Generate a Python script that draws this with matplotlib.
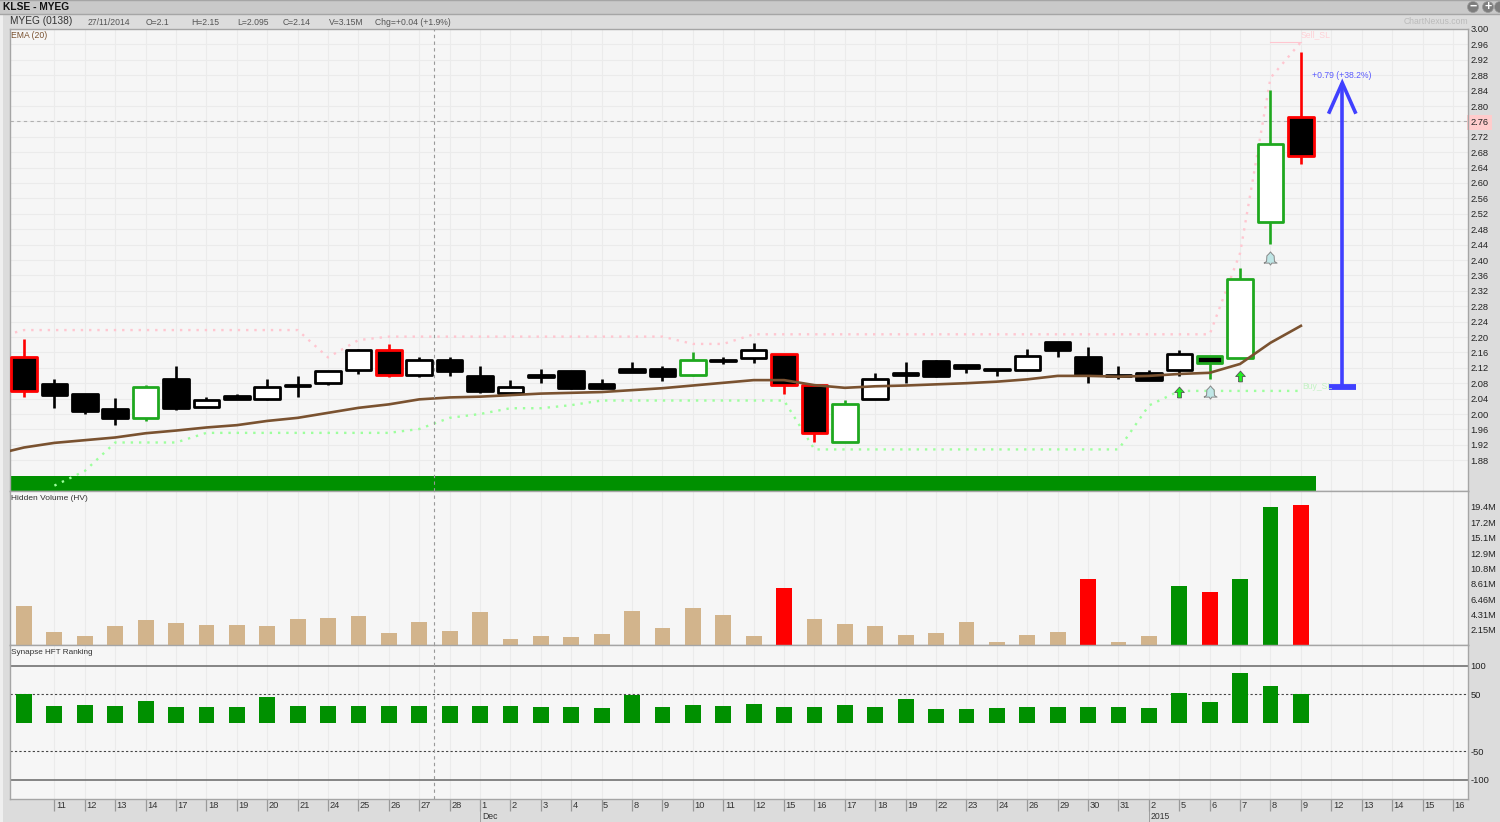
import numpy as np
import matplotlib
matplotlib.use('Agg')
import matplotlib.pyplot as plt
from matplotlib.patches import Rectangle, Circle
from matplotlib.path import Path
from matplotlib.transforms import ScaledTranslation, blended_transform_factory

plt.rcParams['font.family'] = ['Liberation Sans', 'DejaVu Sans']

# ---- data ----
date_labels = ['11', '12', '13', '14', '17', '18', '19', '20', '21', '24', '25', '26', '27', '28',
               '1', '2', '3', '4', '5', '8', '9', '10', '11', '12', '15', '16', '17', '18', '19',
               '22', '23', '24', '26', '29', '30', '31', '2', '5', '6', '7', '8', '9',
               '12', '13', '14', '15', '16']
date_idx = list(range(1, 48))

highs = [2.195, 2.09, 2.052, 2.042, 2.075, 2.125, 2.045, 2.051, 2.09, 2.10, 2.111, 2.17, 2.181, 2.149,
         2.149, 2.125, 2.088, 2.116, 2.112, 2.09, 2.136, 2.125, 2.16, 2.147, 2.185, 2.156, 2.075,
         2.036, 2.106, 2.136, 2.14, 2.127, 2.116, 2.17, 2.186, 2.175, 2.125, 2.114, 2.166, 2.15,
         2.378, 2.842, 2.941]
lows = [2.045, 2.016, 2.0, 1.971, 1.982, 2.01, 2.019, 2.04, 2.036, 2.045, 2.075, 2.104, 2.095, 2.095,
        2.10, 2.055, 2.052, 2.08, 2.066, 2.065, 2.108, 2.085, 2.10, 2.13, 2.133, 2.051, 1.926,
        1.926, 2.04, 2.08, 2.095, 2.106, 2.10, 2.114, 2.149, 2.08, 2.09, 2.088, 2.10, 2.09,
        2.145, 2.441, 2.649]
opens = [2.149, 2.077, 2.052, 2.013, 1.99, 2.092, 2.019, 2.046, 2.04, 2.076, 2.08, 2.114, 2.166, 2.10,
         2.14, 2.099, 2.055, 2.102, 2.112, 2.077, 2.117, 2.117, 2.10, 2.14, 2.145, 2.156, 2.075,
         1.926, 2.04, 2.106, 2.137, 2.127, 2.116, 2.114, 2.186, 2.147, 2.10, 2.107, 2.114, 2.15,
         2.145, 2.50, 2.771]
closes = [2.06, 2.05, 2.009, 1.99, 2.07, 2.015, 2.036, 2.04, 2.07, 2.074, 2.111, 2.166, 2.10, 2.14,
          2.112, 2.06, 2.071, 2.096, 2.068, 2.068, 2.108, 2.099, 2.14, 2.138, 2.166, 2.075, 1.95,
          2.026, 2.091, 2.10, 2.099, 2.12, 2.113, 2.151, 2.165, 2.10, 2.098, 2.088, 2.156, 2.133,
          2.351, 2.701, 2.671]
candle_edge = ['r', 'k', 'k', 'k', 'g', 'k', 'k', 'k', 'k', 'k', 'k', 'k', 'r', 'k',
               'k', 'k', 'k', 'k', 'k', 'k', 'k', 'k', 'g', 'k', 'k', 'r', 'r',
               'g', 'k', 'k', 'k', 'k', 'k', 'k', 'k', 'k', 'k', 'k', 'k', 'g',
               'g', 'g', 'r']

ema_idx = list(range(-1, 43))
ema = [1.894, 1.913, 1.925, 1.932, 1.939, 1.950, 1.957, 1.965, 1.971, 1.982, 1.990, 2.003, 2.016,
       2.025, 2.038, 2.043, 2.045, 2.049, 2.053, 2.055, 2.057, 2.062, 2.067, 2.074, 2.081, 2.088,
       2.088, 2.075, 2.068, 2.072, 2.074, 2.077, 2.080, 2.084, 2.090, 2.099, 2.099, 2.097, 2.099,
       2.104, 2.107, 2.130, 2.185, 2.229]

sell_sl = [2.197] + [2.218] * 10 + [2.147, 2.192] + [2.201] * 10 + [2.182, 2.182] + [2.207] * 16 \
    + [2.418, 2.873, 2.966]
buy_sl_idx = list(range(1, 43))
buy_sl = [1.814, 1.852, 1.926, 1.926, 1.926] + [1.951] * 7 + [1.961, 1.990, 2.0, 2.015, 2.015, 2.023] \
    + [2.035] * 7 + [1.908] * 11 + [2.022] + [2.060] * 5

arrow_idx = [38, 40]
arrow_price = [2.056, 2.100]
bell_idx = [39, 41]
bell_price = [2.056, 2.406]

volume = [5.55, 1.82, 1.26, 2.70, 3.54, 3.12, 2.89, 2.89, 2.70, 3.68, 3.78, 4.10, 1.68, 3.22, 2.0, 4.66,
          0.89, 1.26, 1.17, 1.59, 4.76, 2.47, 5.22, 4.24, 1.35, 7.97, 3.68, 3.03, 2.70, 1.49, 1.68, 3.22,
          0.47, 1.45, 1.91, 9.23, 0.47, 1.35, 8.30, 7.41, 9.32, 19.35, 19.58]
volume_kind = ['n'] * 25 + ['r'] + ['n'] * 9 + ['r', 'n', 'n', 'g', 'r', 'g', 'g', 'r']
vol_ticks = [2.15, 4.31, 6.46, 8.61, 10.8, 12.9, 15.1, 17.2, 19.4]
vol_labels = ['2.15M', '4.31M', '6.46M', '8.61M', '10.8M', '12.9M', '15.1M', '17.2M', '19.4M']

hft = [50, 30, 32, 30, 39, 28, 27, 28, 46, 29, 30, 30, 30, 30, 30, 29,
       29, 28, 27, 25, 49, 28, 31, 29, 33, 28, 27, 31, 27, 42, 24, 24, 26, 27, 28, 28,
       28, 25, 53, 36, 87, 64, 50]

last_price = 2.76
cross_idx = 13.49
move_idx = 43.36
move_low = 2.07
move_high = 2.86

# ---- figure and panels, in pixels of the 1500x822 picture ----
W, H = 1500, 822
LEFT, RIGHT = 9.5, 1467.5
fig = plt.figure(figsize=(W / 100, H / 100), dpi=100, facecolor='#dcdcdc')


def panel(top, bottom):
    ax = fig.add_axes([LEFT / W, 1 - bottom / H, (RIGHT - LEFT) / W, (bottom - top) / H])
    ax.set_facecolor('#f6f6f6')
    ax.set_xlim(-0.477, 47.48)
    for s in ax.spines.values():
        s.set_color('#a5a5a5')
        s.set_linewidth(1.0)
    ax.set_axisbelow(True)
    ax.grid(axis='x', color='#ebebeb', lw=0.8)
    ax.set_xticks(date_idx)
    ax.yaxis.tick_right()
    ax.tick_params(axis='y', length=0, pad=2.2, labelsize=6.7, labelcolor='#222222')
    ax.tick_params(axis='x', length=0, labelbottom=False)
    ax.axvline(cross_idx, color='#999999', lw=0.8, ls=(0, (3, 3)), zorder=6)
    return ax


def label(x, y, s, **kw):
    kw.setdefault('fontsize', 6.2)
    kw.setdefault('color', '#555555')
    kw.setdefault('va', 'center')
    fig.text(x / W, 1 - y / H, s, **kw)


# window chrome behind the panels
chrome = fig.add_axes([0, 0, 1, 1], zorder=-1)
chrome.set_xlim(0, W)
chrome.set_ylim(H, 0)
chrome.axis('off')
chrome.add_patch(Rectangle((0, 0), W, 14.5, fc='#c9c9c9', ec='none'))
chrome.plot([0, W], [0.5, 0.5], color='#a5a5a5', lw=1)
chrome.plot([0, W], [14.5, 14.5], color='#a5a5a5', lw=1)
chrome.add_patch(Rectangle((0, 15), 3, 807, fc='#efefef', ec='none'))
for cx, sym in zip([1473, 1488, 1500], ['\u2212', '+', '']):
    chrome.add_patch(Circle((cx, 7), 5.5, fc='#7d7d7d', ec='#999999', lw=0.5))
    chrome.text(cx, 6.7, sym, color='white', fontsize=9, fontweight='bold', ha='center', va='center')

ax1 = panel(29, 491)
ax2 = panel(491, 645.3)
ax3 = panel(645.3, 799.3)

# ---- price panel ----
ax1.set_ylim(1.80, 3.00)
price_ticks = np.arange(1.88, 3.001, 0.04)
ax1.set_yticks(price_ticks)
ax1.set_yticklabels(['%.2f' % p for p in price_ticks])
ax1.grid(axis='y', color='#ebebeb', lw=0.8)
for t, p in zip(ax1.get_yticklabels(), price_ticks):
    if abs(p - last_price) < 1e-6:
        t.set_bbox(dict(fc='#ffcccc', ec='none', pad=2.2))

ax1.axhline(last_price, color='#b0b0b0', lw=0.8, ls=(0, (3, 3)), zorder=2)
ax1.fill_between([-0.477, 42.5], 1.80, 1.838, color='#009000', lw=0, zorder=2)

ax1.plot(ema_idx, sell_sl, color='#ffc6d0', lw=1.7, ls=(0, (1, 2.5)), zorder=3)
ax1.plot(buy_sl_idx, buy_sl, color='#9dff9d', lw=1.7, ls=(0, (1, 2.5)), zorder=3)
ax1.plot([41, 42], [sell_sl[-1]] * 2, color='#ffc6d0', lw=0.8, zorder=3)

edge_colors = {'k': 'black', 'r': '#ff0000', 'g': '#1fa81f'}
for i in range(len(highs)):
    ec = edge_colors[candle_edge[i]]
    ax1.vlines(i, lows[i], highs[i], color=ec, lw=1.9, zorder=4)
    fill = 'white' if closes[i] > opens[i] else 'black'
    ax1.bar(i, abs(closes[i] - opens[i]), bottom=min(opens[i], closes[i]), width=0.84,
            facecolor=fill, edgecolor=ec, lw=2.0, joinstyle='round', zorder=4)

ax1.plot(ema_idx, ema, color='#7a5230', lw=1.9, zorder=5)

up_arrow = Path([(-0.35, -1), (0.35, -1), (0.35, 0), (0.9, 0), (0, 1), (-0.9, 0), (-0.35, 0), (-0.35, -1)])
bell = Path([(-1, -0.7), (-0.6, -0.45), (-0.55, 0.4), (-0.2, 0.75), (0, 1), (0.2, 0.75), (0.55, 0.4),
             (0.6, -0.45), (1, -0.7), (0.2, -0.7), (0, -1), (-0.2, -0.7), (-1, -0.7)])
ax1.scatter(arrow_idx, arrow_price, marker=up_arrow, s=60, facecolor='#22ee22', edgecolor='#555555',
            lw=0.6, zorder=7)
ax1.scatter(bell_idx, bell_price, marker=bell, s=90, facecolor='#bfe6e6', edgecolor='#888888',
            lw=0.7, zorder=7)

# blue measuring arrow
blue = '#4040ff'
ax1.plot([move_idx, move_idx], [move_low, move_high], color=blue, lw=2.6, zorder=7, solid_capstyle='butt')
ax1.plot([move_idx - 0.45, move_idx, move_idx + 0.45], [move_high - 0.08, move_high, move_high - 0.08],
         color=blue, lw=2.6, zorder=7, solid_joinstyle='miter', solid_capstyle='butt')
ax1.plot([move_idx - 0.44, move_idx + 0.44], [move_low, move_low], color=blue, lw=4.2, zorder=7,
         solid_capstyle='butt')
label(1342, 75, '+0.79 (+38.2%)', color='#5a5aff', ha='center')

# ---- hidden volume panel ----
ax2.set_ylim(0, 21.58)
ax2.set_yticks(vol_ticks)
ax2.set_yticklabels(vol_labels)
vol_colors = {'n': '#d2b48c', 'r': '#ff0000', 'g': '#009000'}
ax2.bar(range(len(volume)), volume, width=0.52, color=[vol_colors[k] for k in volume_kind], zorder=3)

# ---- HFT ranking panel ----
ax3.set_ylim(-134.7, 136.1)
ax3.set_yticks([100, 50, -50, -100])
ax3.set_yticklabels(['100', '50', '-50', '-100'])
for v in [100, -100]:
    ax3.axhline(v, color='#666666', lw=1.1, zorder=2)
for v in [50, -50]:
    ax3.axhline(v, color='#444444', lw=0.8, ls=(0, (2, 2)), zorder=2)
ax3.bar(range(len(hft)), hft, width=0.52, color='#009000', zorder=3)

# date axis under the last panel, labels sit right of the tick
ax3.tick_params(axis='x', length=8.6, width=0.9, color='#999999', labelbottom=True, labelsize=6.7,
                labelcolor='#333333', pad=-7.6)
ax3.set_xticklabels(date_labels, ha='left')
shift = ScaledTranslation(1.5 / 100, 0, fig.dpi_scale_trans)
for t in ax3.get_xticklabels():
    t.set_transform(t.get_transform() + shift)
trans = blended_transform_factory(ax3.transData, ax3.transAxes)
for i, s in zip([15, 37], ['Dec', '2015']):
    ax3.plot([i, i], [-0.07, -0.15], transform=trans, color='#999999', lw=0.65, clip_on=False)
    ax3.text(i + 0.06, -0.11, s, transform=trans, fontsize=6.2, color='#333333', va='center', ha='left',
             clip_on=False)

# ---- header and panel captions ----
label(3, 7, 'KLSE - MYEG', fontsize=7.4, fontweight='bold', color='#111111')
label(10, 21.5, 'MYEG (0138)', fontsize=7.3, color='#333333')
header_x = [88, 146, 191, 237, 283, 329, 375]
header_s = ['27/11/2014', 'O=2.1', 'H=2.15', 'L=2.095', 'C=2.14', 'V=3.15M', 'Chg=+0.04 (+1.9%)']
for x, s in zip(header_x, header_s):
    label(x, 22.5, s)
label(1468, 22, 'ChartNexus.com', color='#bbbbbb', ha='right')
label(11, 35, 'EMA (20)', color='#7a5230')
label(11, 498, 'Hidden Volume (HV)', color='#333333', fontsize=6.0)
label(11, 652, 'Synapse HFT Ranking', color='#333333', fontsize=5.9)
label(1301, 35, 'Sell_SL', color='#ffd0d6')
label(1302, 386, 'Buy_SL', color='#c4f2c4')

fig.savefig('out.png', dpi=100, facecolor=fig.get_facecolor())
